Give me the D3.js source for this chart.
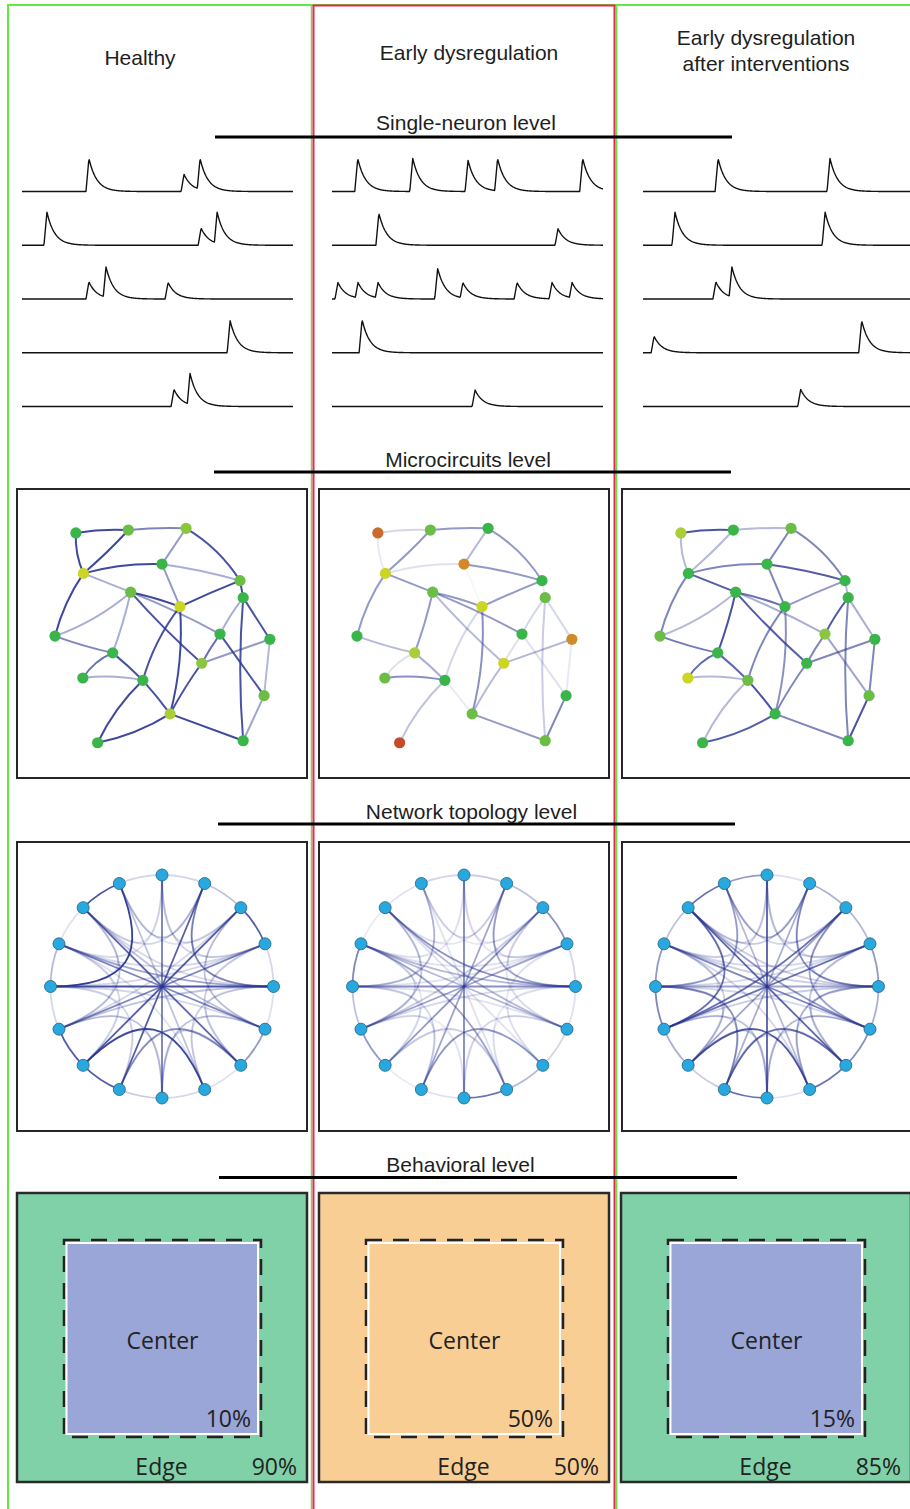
<!DOCTYPE html>
<html>
<head>
<meta charset="utf-8">
<script src="https://cdn.jsdelivr.net/npm/d3@7"></script>
<style>
  body { margin: 0; background: #fff; }
  svg { display: block; }
</style>
</head>
<body>
<svg id="fig" width="910" height="1509"></svg>
<script>
// ---------------- data ----------------
const columnTitles = [["Healthy"], ["Early dysregulation"], ["Early dysregulation", "after interventions"]];
const levelTitles = ["Single-neuron level", "Microcircuits level", "Network topology level", "Behavioral level"];

// calcium-like events for five neurons per condition: [time (0–100), relative amplitude]
const spikesHealthy = [
  [[24.7, 1], [59.8, .52], [65.7, 1]],
  [[9.2, 1], [66.1, .52], [72.0, 1]],
  [[24.7, .52], [31.0, .97], [53.9, .5]],
  [[76.8, .97]],
  [[56.1, .52], [62.0, 1]]
];
const spikesDysregulated = [
  [[9.5, 1], [29.8, 1], [50.2, .94], [61.1, 1], [92.5, 1]],
  [[17.3, .97], [83.4, .5]],
  [[2.2, .5], [9.6, .5], [17.0, .5], [39.0, .92], [48.3, .5], [68.3, .5], [81.2, .5], [88.6, .5]],
  [[11.1, 1]],
  [[52.8, .5]]
];
const spikesRescued = [
  [[27.7, 1], [69.0, 1]],
  [[11.8, 1], [67.2, 1]],
  [[26.9, .52], [32.8, .97]],
  [[4.1, .5], [80.7, .97]],
  [[58.2, .52]]
];

// microcircuit: node layout in panel units (0–100)
const microNodes = [
  [20.3, 15.2], [38.4, 14.2], [58.3, 13.6], [22.9, 29.2], [50.0, 26.0],
  [76.9, 31.7], [39.2, 35.7], [56.2, 40.7], [78.0, 37.6], [13.1, 50.9],
  [70.0, 50.2], [87.2, 52.0], [33.0, 56.7], [63.7, 60.3], [22.7, 65.4],
  [43.4, 66.2], [85.2, 71.5], [52.8, 77.8], [27.8, 87.8], [78.0, 87.1]
];
const microEdges = [
  [0,1],[1,2],[0,3],[1,3],[2,4],[2,5],[3,4],[4,5],[4,7],[3,6],
  [3,9],[6,7],[7,5],[5,8],[6,9],[6,12],[6,10],[6,13],[8,10],[8,11],
  [8,19],[9,12],[10,13],[10,16],[13,11],[11,16],[12,14],[14,15],[12,15],[7,15],
  [7,17],[13,17],[15,17],[15,18],[17,18],[17,19],[16,19]
];
// synaptic strength of each microcircuit edge, per condition
const microWeightsHealthy = [
  .9,.6,.9,.9,.5,.85,.9,.4,.5,.4,
  .9,.9,.9,.9,.4,.4,.5,.85,.4,.85,
  .85,.6,.7,.85,.5,.35,.7,.4,.85,.85,
  .9,.85,.85,.9,.9,.9,.45
];
const microWeightsDysregulated = [
  .2,.5,.1,.5,.35,.5,.15,.5,.04,.5,
  .5,.5,.5,.1,0,.5,.5,.35,.2,.2,
  .25,.35,.15,.15,.35,.1,.15,.55,.4,.2,
  .55,.35,.1,.3,0,.5,.6
];
const microWeightsRescued = [
  .85,.35,.35,.35,.6,.6,.6,.8,.6,.8,
  .6,.7,.5,.35,.35,.85,.4,.8,.8,.4,
  .6,.65,.6,.45,.6,.6,.75,.35,.75,.6,
  .55,.6,.85,.35,.8,.6,.85
];
// activity class of each neuron, per condition
const microStateHealthy = ["g","l","y2","y","g","l","l","y","g","g","g","g","g","y2","g","g","l","y3","g","g"];
const microStateDysregulated = ["d","l","g","y","o","g","l","y","l","g","g","o","y3","y","l","g","g","l","r","l"];
const microStateRescued = ["y3","g","l","g","g","g","g","g","g","l","y2","g","g","g","y","l","l","g","g","g"];

// network topology: 16 regions on a ring, connections with strengths per condition
const netNodeCount = 16;
const netEdges = [
  [0,1],[1,2],[2,3],[3,4],[4,5],[5,6],[6,7],[7,8],[8,9],[9,10],[10,11],[11,12],[12,13],[13,14],[14,15],[15,0],
  [0,8],[1,9],[2,10],[3,11],[4,12],[5,13],[6,14],[7,15],
  [15,1],[0,2],[14,0],[1,3],[2,4],[3,5],[4,6],[5,7],[6,8],[7,9],[8,10],[9,11],[10,12],[11,13],[12,14],[13,15],
  [12,15],[10,7],[9,6],[1,4],[0,3],[13,0],[11,8],[5,8],[2,5],[14,1],[3,6],[4,7],[12,9],[14,11],[13,10],[15,2],
  [13,4],[12,5],[14,4],[14,5],[13,7],[11,2],[13,3],[11,4],[12,3]
];
const netWeightsHealthy = [
  .2,.3,.8,.2,.15,.5,.15,.2,.25,.8,.8,.2,.35,.15,.85,.2,
  .65,.8,.8,.6,.85,.6,.75,.3,
  .3,.2,.12,.15,.08,.06,.1,.08,.2,.08,.12,.08,.08,.1,.12,.06,
  .95,.9,.55,.6,.2,.15,.3,.3,.3,.2,.25,.25,.2,.3,.2,.15,
  .45,.2,.2,.3,.15,.2,.2,.3,.2
];
const netWeightsDysregulated = [
  .25,.3,.55,.2,.15,.2,.35,.7,.15,.1,.5,.3,.6,.1,.15,.2,
  .6,.45,.5,.45,.55,.35,.15,.15,
  .2,.12,.06,.2,.15,.05,.06,.08,.05,.06,.05,.15,.12,.2,.12,.05,
  .35,.25,.5,.4,.12,.12,.1,.2,.15,.12,.12,.12,.2,.3,.12,.1,
  .35,.15,.55,.35,.45,.25,.15,.2,.15
];
const netWeightsRescued = [
  .15,.4,.35,.5,.4,.55,.7,.15,.7,.25,.4,.6,.5,.3,.7,.5,
  .8,.4,.45,.7,.45,.6,.75,.35,
  .4,.2,.18,.15,.25,.1,.2,.15,.15,.2,.25,.15,.25,.15,.2,.1,
  .45,.8,.7,.55,.25,.2,.3,.35,.45,.25,.3,.4,.55,.7,.25,.2,
  .25,.2,.25,.5,.2,.7,.2,.25,.2
];

// behaviour in the open field: share of time spent in each zone (%)
const centerShare = [10, 50, 15];
const edgeShare = [90, 50, 85];
const arenaState = ["healthy", "dysregulated", "healthy"];

// ---------------- styling and layout ----------------
const W = 910, H = 1509;
const svg = d3.select("#fig");
const headFont = "'Liberation Sans', Arial, Helvetica, sans-serif";
const arenaFont = "'Open Sans', 'Noto Sans', sans-serif";
const ink = "#1e1e1e";
const navy = "#2a3590";

const stateColor = {
  g: "#3ab54a", l: "#6cbd45", y2: "#8cc63f", y3: "#a8cf38", y: "#ccd622",
  o: "#d08a2a", d: "#ca6a2c", r: "#c44b2a"
};
const arenaColors = {
  healthy: { outer: "#80d1a8", inner: "#9aa5d8" },
  dysregulated: { outer: "#f9ce94", inner: "#f9ce94" }
};

const traceLeft = [22, 332, 643], traceWidth = 271, traceBase0 = 191.5, traceStep = 53.75, spikePx = 33;
const panelLeft = [17, 319, 622], panelW = 290, panelH = 289;
const microTop = 489, netTop = 842, arenaTop = 1193;
const netRadius = 111.5;
// curvature (px) of each microcircuit edge, positive bows to the left of travel
const microBend = [3,2,-5,2,0,9,6,3,0,0,-6,2,1,0,8,2,3,-3,-2,0,-6,-2,-1,0,0,0,-6,5,1,-8,9,-2,1,-7,7,0,0];

svg.append("rect").attr("width", W).attr("height", H).attr("fill", "#fff");

// ---------------- column frames ----------------
const frames = svg.append("g").attr("fill", "none");
frames.append("path").attr("d", `M8,${H}V5H${W}`).attr("stroke", "#63e83f").attr("stroke-width", 2);
frames.append("line").attr("x1", 311.5).attr("x2", 311.5).attr("y1", 5).attr("y2", H).attr("stroke", "#63e83f").attr("stroke-width", 1.5);
frames.append("line").attr("x1", 616.5).attr("x2", 616.5).attr("y1", 5).attr("y2", H).attr("stroke", "#63e83f").attr("stroke-width", 1.5);
frames.append("path").attr("d", `M313.5,${H}V5.5H614.5V${H}`).attr("stroke", "#ec2452").attr("stroke-width", 2);

// ---------------- column titles ----------------
const titleCenters = [140, 469, 766];
const titleBaselines = [[64.5], [59.5], [44.5, 70.5]];
columnTitles.forEach((lines, c) => {
  lines.forEach((t, i) => {
    svg.append("text").attr("x", titleCenters[c]).attr("y", titleBaselines[c][i])
      .attr("text-anchor", "middle").attr("font-family", headFont).attr("font-size", 21)
      .attr("fill", ink).text(t);
  });
});

// ---------------- level separators ----------------
const levelRules = [
  { cx: 466, base: 130, x1: 215, x2: 732, y: 137 },
  { cx: 468, base: 466.5, x1: 214, x2: 731, y: 472 },
  { cx: 471.5, base: 818.5, x1: 218, x2: 735, y: 824 },
  { cx: 460.5, base: 1172, x1: 219, x2: 737, y: 1177.5 }
];
levelTitles.forEach((t, i) => {
  const r = levelRules[i];
  svg.append("line").attr("x1", r.x1).attr("x2", r.x2).attr("y1", r.y).attr("y2", r.y)
    .attr("stroke", "#000").attr("stroke-width", 3);
  svg.append("text").attr("x", r.cx).attr("y", r.base).attr("text-anchor", "middle")
    .attr("font-family", headFont).attr("font-size", 21).attr("fill", ink).text(t);
});

// ---------------- single-neuron traces ----------------
const RISE = 1.1, TAU = 2.9;
function kernel(dt) {
  if (dt < -RISE) return 0;
  if (dt < 0) return (dt + RISE) / RISE;
  return Math.exp(-dt / TAU);
}
const samples = d3.range(0, 100.0001, 0.2);
[spikesHealthy, spikesDysregulated, spikesRescued].forEach((neurons, c) => {
  const x = d3.scaleLinear().domain([0, 100]).range([traceLeft[c], traceLeft[c] + traceWidth]);
  neurons.forEach((events, i) => {
    const base = traceBase0 + i * traceStep;
    const y = d3.scaleLinear().domain([0, 1]).range([base, base - spikePx]);
    const values = samples.map(t => [t, d3.max(events, e => e[1] * kernel(t - e[0])) || 0]);
    svg.append("path").datum(values)
      .attr("d", d3.line().x(d => x(d[0])).y(d => y(d[1])))
      .attr("fill", "none").attr("stroke", "#111").attr("stroke-width", 1.4)
      .attr("stroke-linejoin", "round");
  });
});

// ---------------- microcircuits ----------------
const microWeights = [microWeightsHealthy, microWeightsDysregulated, microWeightsRescued];
const microStates = [microStateHealthy, microStateDysregulated, microStateRescued];
panelLeft.forEach((left, c) => {
  const g = svg.append("g");
  g.append("rect").attr("x", left).attr("y", microTop).attr("width", panelW).attr("height", panelH)
    .attr("fill", "#fff").attr("stroke", "#262626").attr("stroke-width", 2);
  const x = d3.scaleLinear().domain([0, 100]).range([left, left + panelW]);
  const y = d3.scaleLinear().domain([0, 100]).range([microTop, microTop + panelH]);
  microEdges.forEach(([s, t], k) => {
    const w = microWeights[c][k];
    if (w <= 0) return;
    const ax = x(microNodes[s][0]), ay = y(microNodes[s][1]);
    const bx = x(microNodes[t][0]), by = y(microNodes[t][1]);
    const dx = bx - ax, dy = by - ay, len = Math.hypot(dx, dy);
    const cx = (ax + bx) / 2 + microBend[k] * dy / len;
    const cy = (ay + by) / 2 - microBend[k] * dx / len;
    const p = d3.path(); p.moveTo(ax, ay); p.quadraticCurveTo(cx, cy, bx, by);
    g.append("path").attr("d", p.toString()).attr("fill", "none")
      .attr("stroke", navy).attr("stroke-opacity", w).attr("stroke-width", 2);
  });
  g.selectAll("circle.n").data(microNodes).join("circle")
    .attr("cx", d => x(d[0])).attr("cy", d => y(d[1])).attr("r", 5.6)
    .attr("fill", (d, i) => stateColor[microStates[c][i]]);
});

// ---------------- network topology ----------------
const netWeights = [netWeightsHealthy, netWeightsDysregulated, netWeightsRescued];
const angle = d3.scaleLinear().domain([0, netNodeCount]).range([-Math.PI / 2, 1.5 * Math.PI]);
const PULL = 0.7;
panelLeft.forEach((left, c) => {
  const g = svg.append("g");
  g.append("rect").attr("x", left).attr("y", netTop).attr("width", panelW).attr("height", panelH)
    .attr("fill", "#fff").attr("stroke", "#262626").attr("stroke-width", 2);
  const cx = left + panelW / 2, cy = netTop + panelH / 2;
  const pos = d3.range(netNodeCount).map(i => [cx + netRadius * Math.cos(angle(i)), cy + netRadius * Math.sin(angle(i))]);
  netEdges.forEach(([s, t], k) => {
    const w = netWeights[c][k];
    if (w <= 0) return;
    const [ax, ay] = pos[s], [bx, by] = pos[t];
    const steps = Math.min((s - t + netNodeCount) % netNodeCount, (t - s + netNodeCount) % netNodeCount);
    let d;
    if (steps === 1) {
      const sweep = ((t - s + netNodeCount) % netNodeCount) === 1 ? 1 : 0;
      d = `M${ax},${ay}A${netRadius},${netRadius} 0 0 ${sweep} ${bx},${by}`;
    } else {
      const p = d3.path();
      p.moveTo(ax, ay);
      p.bezierCurveTo(cx + (1 - PULL) * (ax - cx), cy + (1 - PULL) * (ay - cy),
                      cx + (1 - PULL) * (bx - cx), cy + (1 - PULL) * (by - cy), bx, by);
      d = p.toString();
    }
    g.append("path").attr("d", d).attr("fill", "none").attr("stroke", navy)
      .attr("stroke-opacity", w).attr("stroke-width", 1.8);
  });
  g.selectAll("circle.n").data(pos).join("circle")
    .attr("cx", d => d[0]).attr("cy", d => d[1]).attr("r", 6)
    .attr("fill", "#27a9e0").attr("stroke", "#2b6a8c").attr("stroke-width", 0.9);
});

// ---------------- behavioural arenas ----------------
const arenaLeft = [17, 319, 621];
arenaLeft.forEach((left, c) => {
  const col = arenaColors[arenaState[c]];
  const g = svg.append("g");
  g.append("rect").attr("x", left).attr("y", arenaTop).attr("width", panelW).attr("height", panelH)
    .attr("fill", col.outer).attr("stroke", "#2a2a2a").attr("stroke-width", 2.5);
  g.append("rect").attr("x", left + 47).attr("y", arenaTop + 47).attr("width", 197).attr("height", 197)
    .attr("fill", "none").attr("stroke", "#222").attr("stroke-width", 2.5).attr("stroke-dasharray", "16 11");
  g.append("rect").attr("x", left + 49.5).attr("y", arenaTop + 50).attr("width", 191.5).attr("height", 191)
    .attr("fill", col.inner).attr("stroke", "#fff").attr("stroke-width", 2);
  const txt = (x, y, anchor, s) => g.append("text").attr("x", x).attr("y", y).attr("text-anchor", anchor)
    .attr("font-family", arenaFont).attr("font-size", 23).attr("fill", "#222").text(s);
  txt(left + 145.5, arenaTop + 155.5, "middle", "Center");
  txt(left + 234, arenaTop + 233.5, "end", centerShare[c] + "%");
  txt(left + 144.5, arenaTop + 282, "middle", "Edge");
  txt(left + 280, arenaTop + 282, "end", edgeShare[c] + "%");
});
</script>
</body>
</html>
